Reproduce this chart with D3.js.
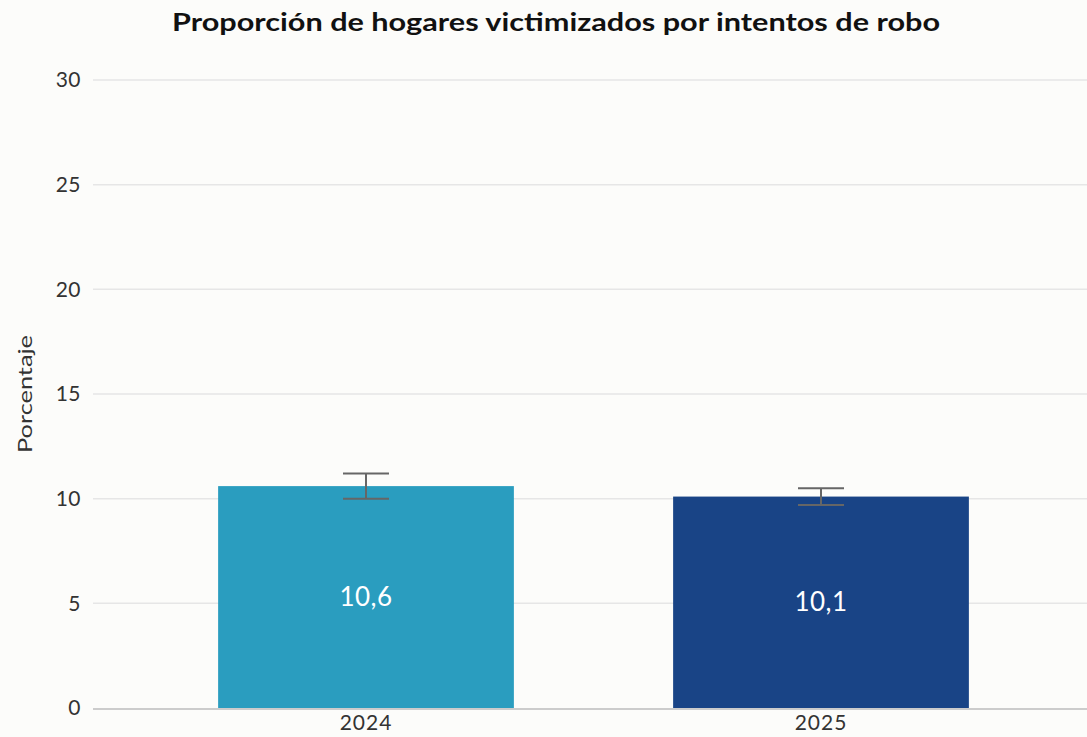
<!DOCTYPE html>
<html>
<head>
<meta charset="utf-8">
<script src="https://cdn.jsdelivr.net/npm/d3@7"></script>
<style>
  body { margin: 0; background: #fcfcfa; }
  svg { display: block; font-family: "Lato", "Open Sans", sans-serif; }
</style>
</head>
<body>
<div id="chart"></div>
<script>
// data
var years = ["2024", "2025"];
var values = [10.6, 10.1];
var lower = [10.0, 9.7];
var upper = [11.2, 10.5];
var labels = ["10,6", "10,1"];
var yTicks = [0, 5, 10, 15, 20, 25, 30];
var colors = ["#2a9dbf", "#194486"];

var W = 1087, H = 737;
var margin = {top: 80, right: 0, bottom: 29, left: 93};

var svg = d3.select("#chart").append("svg")
    .attr("width", W)
    .attr("height", H);

svg.append("rect").attr("width", W).attr("height", H).attr("fill", "#fcfcfa");

var y = d3.scaleLinear().domain([0, 30]).range([H - margin.bottom, margin.top]);
var x = d3.scaleBand().domain(years)
    .range([138.5, 1048.5])
    .paddingInner(0.35)
    .paddingOuter(0.175);

// grid lines
svg.append("g")
    .selectAll("line")
    .data(yTicks.slice(1))
    .enter().append("line")
    .attr("x1", margin.left).attr("x2", W)
    .attr("y1", d => y(d)).attr("y2", d => y(d))
    .attr("stroke", "#e6e6e6").attr("stroke-width", 1.5);

// y tick labels
svg.append("g")
    .selectAll("text")
    .data(yTicks)
    .enter().append("text")
    .attr("x", 81)
    .attr("y", d => y(d))
    .attr("dy", "0.35em")
    .attr("text-anchor", "end")
    .attr("font-size", 21)
    .attr("letter-spacing", 0.5)
    .attr("fill", "#333")
    .text(d => d);

// y label
svg.append("text")
    .attr("transform", "translate(32," + 394 + ") rotate(-90)")
    .attr("text-anchor", "middle")
    .attr("font-size", 20)
    .attr("textLength", 118)
    .attr("lengthAdjust", "spacingAndGlyphs")
    .attr("fill", "#333")
    .text("Porcentaje");

// bars
svg.append("g")
    .selectAll("rect")
    .data(years)
    .enter().append("rect")
    .attr("x", d => x(d))
    .attr("y", (d, i) => y(values[i]))
    .attr("width", x.bandwidth())
    .attr("height", (d, i) => y(0) - y(values[i]))
    .attr("fill", (d, i) => colors[i]);

// x axis line
svg.append("line")
    .attr("x1", margin.left).attr("x2", W)
    .attr("y1", y(0) + 1).attr("y2", y(0) + 1)
    .attr("stroke", "#cccccc").attr("stroke-width", 2);

// x labels
svg.append("g")
    .selectAll("text")
    .data(years)
    .enter().append("text")
    .attr("x", d => x(d) + x.bandwidth() / 2)
    .attr("y", 730)
    .attr("text-anchor", "middle")
    .attr("font-size", 21)
    .attr("letter-spacing", 1)
    .attr("fill", "#333")
    .text(d => d);

// error bars
var eb = svg.append("g").attr("stroke", "#666").attr("stroke-width", 2);
years.forEach(function(d, i) {
    var cx = x(d) + x.bandwidth() / 2;
    eb.append("line").attr("x1", cx).attr("x2", cx).attr("y1", y(lower[i])).attr("y2", y(upper[i]));
    eb.append("line").attr("x1", cx - 23).attr("x2", cx + 23).attr("y1", y(lower[i])).attr("y2", y(lower[i]));
    eb.append("line").attr("x1", cx - 23).attr("x2", cx + 23).attr("y1", y(upper[i])).attr("y2", y(upper[i]));
});

// value labels
svg.append("g")
    .selectAll("text")
    .data(years)
    .enter().append("text")
    .attr("x", d => x(d) + x.bandwidth() / 2)
    .attr("y", (d, i) => (y(values[i]) + y(0)) / 2)
    .attr("dy", "0.35em")
    .attr("text-anchor", "middle")
    .attr("font-size", 26)
    .attr("letter-spacing", 0.5)
    .attr("fill", "#ffffff")
    .text((d, i) => labels[i]);

// title
svg.append("text")
    .attr("x", 556)
    .attr("y", 31)
    .attr("text-anchor", "middle")
    .attr("font-size", 25)
    .attr("font-weight", "bold")
    .attr("textLength", 768)
    .attr("lengthAdjust", "spacingAndGlyphs")
    .attr("fill", "#111")
    .text("Proporción de hogares victimizados por intentos de robo");
</script>
</body>
</html>
